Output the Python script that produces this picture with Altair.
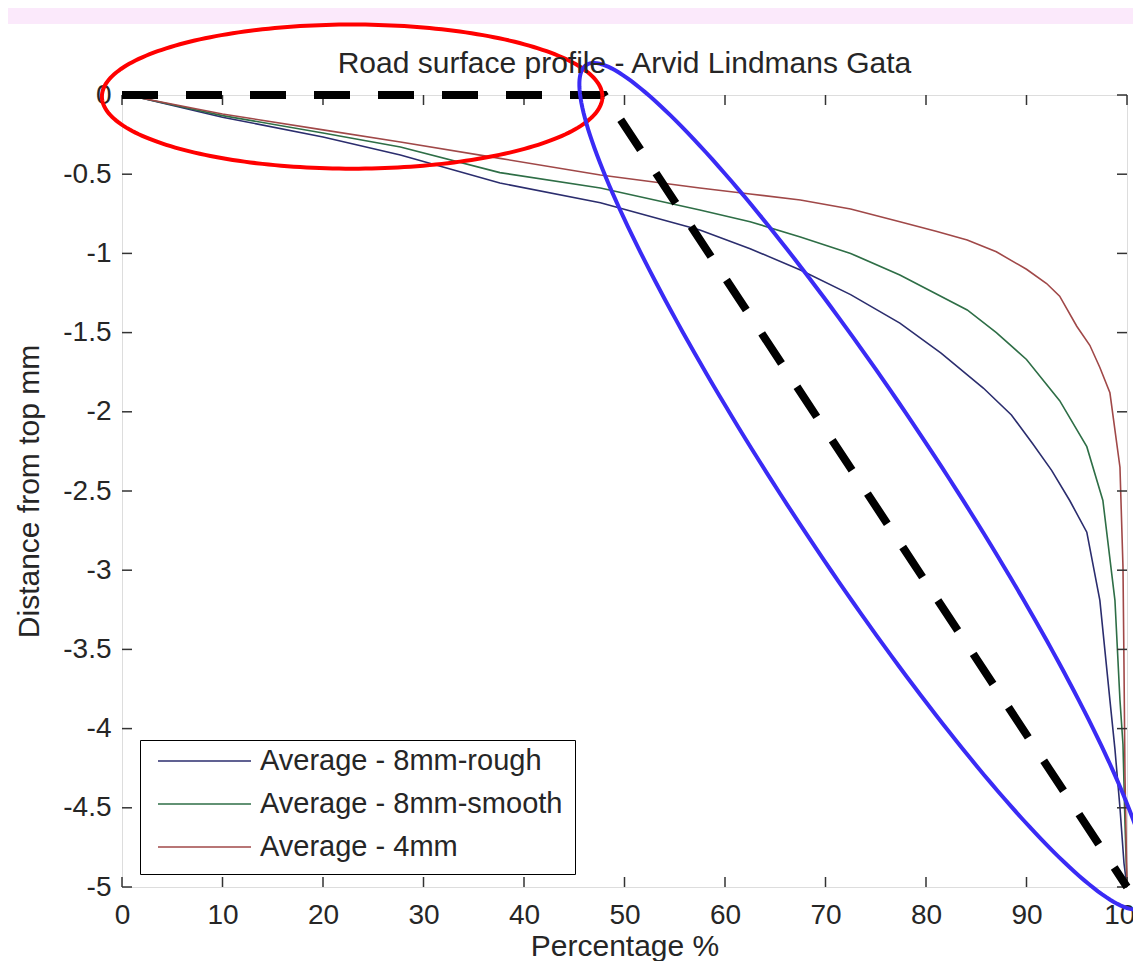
import altair as alt
import numpy as np
import pandas as pd

# ---- data ----
series_names = ["Average - 8mm-rough", "Average - 8mm-smooth", "Average - 4mm"]
series_colors = ["#2B2D6E", "#2E6E46", "#A04848"]

pct_rough = [0, 2, 10, 20, 27.7, 37.6, 47.6, 57.5, 62.5, 67.5, 72.5, 77.4, 81.5, 85.7,
             88.5, 90.6, 92.5, 94.3, 96.0, 97.3, 98.3, 98.8, 99.3, 99.7, 100]
dist_rough = [0, -0.02, -0.14, -0.265, -0.379, -0.556, -0.68, -0.852, -0.97, -1.105, -1.26,
              -1.44, -1.63, -1.85, -2.02, -2.20, -2.37, -2.56, -2.76, -3.19, -3.82, -4.13,
              -4.5, -4.85, -5]

pct_smooth = [0, 2, 10, 20, 27.7, 37.6, 47.6, 57.5, 62.5, 67.5, 72.5, 77.4, 84.1, 87, 90.0,
              93.3, 96.0, 97.6, 98.8, 99.3, 99.6, 99.8, 100]
dist_smooth = [0, -0.02, -0.13, -0.24, -0.328, -0.49, -0.587, -0.726, -0.8, -0.896, -1.0,
               -1.136, -1.357, -1.5, -1.67, -1.93, -2.22, -2.56, -3.19, -3.82, -4.1, -4.6, -5]

pct_4mm = [0, 2, 10, 20, 27.7, 37.6, 47.6, 57.5, 62.5, 67.5, 72.5, 77.4, 81, 84.1, 87, 90.0,
           92, 93.3, 95.0, 96.3, 97.3, 98.3, 99.3, 99.6, 99.7, 99.8, 100]
dist_4mm = [0, -0.02, -0.12, -0.22, -0.297, -0.40, -0.505, -0.587, -0.625, -0.663, -0.72,
            -0.80, -0.86, -0.915, -0.99, -1.10, -1.19, -1.27, -1.46, -1.58, -1.72, -1.88,
            -2.35, -2.98, -3.6, -4.3, -5]

# dashed black guide line
guide_pct = [0, 48, 100]
guide_dist = [0, 0, -5]

# hand-drawn annotation ellipses (centre and semi-axis vectors in data units)
red_center = (22.9, -0.01)
red_axes = ((24.9, 0.0), (0.0, 0.455))
blue_center = (73.9, -2.47)
blue_axes = ((27.7, -2.66), (-6.23, -0.26))

x_ticks = [0, 10, 20, 30, 40, 50, 60, 70, 80, 90, 100]
y_ticks = [-5, -4.5, -4, -3.5, -3, -2.5, -2, -1.5, -1, -0.5, 0]

# ---- build tables ----
rows = []
for name, xs, ys in zip(series_names, [pct_rough, pct_smooth, pct_4mm],
                        [dist_rough, dist_smooth, dist_4mm]):
    for i, (x, y) in enumerate(zip(xs, ys)):
        rows.append({"series": name, "pct": x, "dist": y, "i": i})
curves = pd.DataFrame(rows)

guide = pd.DataFrame({"pct": guide_pct, "dist": guide_dist, "i": range(len(guide_pct))})


def ellipse(center, axes, name):
    t = np.linspace(0, 2 * np.pi, 241)
    (ax, ay), (bx, by) = axes
    return pd.DataFrame({
        "pct": center[0] + ax * np.cos(t) + bx * np.sin(t),
        "dist": center[1] + ay * np.cos(t) + by * np.sin(t),
        "i": np.arange(len(t)),
        "ell": name,
    })


ell_red = ellipse(red_center, red_axes, "red")
ell_blue = ellipse(blue_center, blue_axes, "blue")

W, H = 1005, 792
FONT = "Liberation Sans"
TXT = "#262626"

xscale = alt.Scale(domain=[0, 100], nice=False, zero=False)
yscale = alt.Scale(domain=[-5, 0], nice=False, zero=False)

xaxis = alt.Axis(values=x_ticks, title="Percentage %", grid=False, ticks=False, domain=False,
                 labelPadding=14, titlePadding=2, labelFontSize=28, titleFontSize=30,
                 labelFont=FONT, titleFont=FONT, labelColor=TXT, titleColor=TXT,
                 titleFontWeight="normal", labelFlush=False)
yaxis = alt.Axis(values=y_ticks, title="Distance from top mm", grid=False, ticks=False,
                 domain=False, labelPadding=11, titlePadding=18, labelFontSize=28,
                 titleFontSize=30, labelFont=FONT, titleFont=FONT, labelColor=TXT,
                 titleColor=TXT, titleFontWeight="normal", labelFlush=False,
                 labelExpr="datum.value + ''")

band = alt.Chart(pd.DataFrame({"a": [0]})).mark_rect(color="#FBE9FB", clip=False).encode(
    x=alt.value(-114), x2=alt.value(W + 40), y=alt.value(-87), y2=alt.value(-71))

lines = alt.Chart(curves).mark_line(strokeWidth=1.6, clip=False).encode(
    x=alt.X("pct:Q", scale=xscale, axis=xaxis),
    y=alt.Y("dist:Q", scale=yscale, axis=yaxis),
    color=alt.Color("series:N",
                    scale=alt.Scale(domain=series_names, range=series_colors),
                    sort=series_names,
                    legend=alt.Legend(title=None, orient="none", legendX=18, legendY=645,
                                      symbolType="stroke", symbolSize=8649,
                                      symbolStrokeWidth=1.6, clipHeight=18, rowPadding=14,
                                      symbolOffset=5,
                                      labelFontSize=29, labelFont=FONT, labelColor=TXT,
                                      labelOffset=8, padding=12, strokeColor="#000000",
                                      fillColor="#ffffff", labelLimit=600)),
    order="i:Q",
)

dashed = alt.Chart(guide).mark_line(color="black", strokeWidth=8, strokeDash=[36, 28],
                                    clip=False).encode(
    x=alt.X("pct:Q", scale=xscale), y=alt.Y("dist:Q", scale=yscale), order="i:Q")

red_ell = alt.Chart(ell_red).mark_line(color="#FF0000", strokeWidth=4, clip=False).encode(
    x=alt.X("pct:Q", scale=xscale), y=alt.Y("dist:Q", scale=yscale), order="i:Q")
blue_ell = alt.Chart(ell_blue).mark_line(color="#3A2BF5", strokeWidth=4, clip=False).encode(
    x=alt.X("pct:Q", scale=xscale), y=alt.Y("dist:Q", scale=yscale), order="i:Q")

xt = pd.DataFrame({"t": x_ticks})
yt = pd.DataFrame({"t": y_ticks})
tick_color = "#333333"
tick_bottom = alt.Chart(xt).mark_rule(color=tick_color, strokeWidth=1.5).encode(
    x=alt.X("t:Q", scale=xscale), y=alt.value(H), y2=alt.value(H - 10))
tick_top = alt.Chart(xt).mark_rule(color=tick_color, strokeWidth=1.5).encode(
    x=alt.X("t:Q", scale=xscale), y=alt.value(0), y2=alt.value(10))
tick_left = alt.Chart(yt).mark_rule(color=tick_color, strokeWidth=1.5).encode(
    y=alt.Y("t:Q", scale=yscale), x=alt.value(0), x2=alt.value(10))
tick_right = alt.Chart(yt).mark_rule(color=tick_color, strokeWidth=1.5).encode(
    y=alt.Y("t:Q", scale=yscale), x=alt.value(W), x2=alt.value(W - 10))

chart = alt.layer(
    band, lines, tick_bottom, tick_top, tick_left, tick_right, dashed, red_ell, blue_ell
).properties(
    width=W, height=H,
    title=alt.Title("Road surface profile - Arvid Lindmans Gata", fontSize=30, font=FONT,
                    fontWeight="normal", color=TXT, anchor="middle", offset=0,
                    baseline="alphabetic", dy=95, frame="group"),
    autosize=alt.AutoSizeParams(type="none"),
    padding={"left": 114, "top": 87, "right": 6, "bottom": 74},
).configure_view(stroke="#333333", strokeWidth=1.5).configure(background="white")

chart.save("out.html", embed_options={"renderer": "svg", "actions": False})
